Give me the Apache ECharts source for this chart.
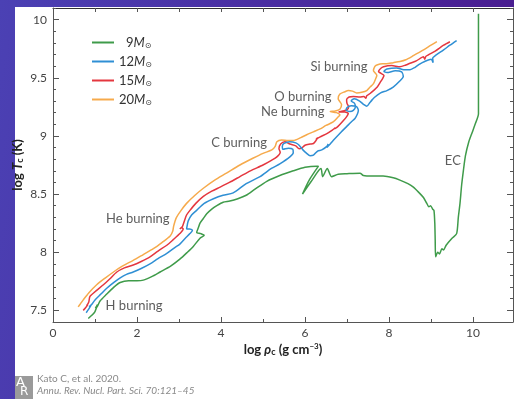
<!DOCTYPE html>
<html>
<head>
<meta charset="utf-8">
<script src="https://cdn.jsdelivr.net/npm/echarts@6/dist/echarts.min.js"></script>
<style>
  html, body { margin: 0; padding: 0; }
  #page {
    position: relative; width: 514px; height: 399px; overflow: hidden;
    background: linear-gradient(100deg, #4b41b4 0%, #4a2ea2 45%, #4a1a8c 100%);
  }
  #panel { position: absolute; left: 15px; top: 7px; right: 0; bottom: 0; background: #fff; }
  #chart { position: absolute; left: 0; top: 0; width: 514px; height: 399px; }
</style>
</head>
<body>
<div id="page">
  <div id="panel"></div>
  <div id="chart"></div>
</div>
<script>
// Central temperature vs. central density tracks (log10 values)
const massLabels = ['9', '12', '15', '20'];
const trackColors = ['#3f9b4a', '#2f8fd4', '#e4373f', '#f6aa4c'];

const track9 = [
  [0.84,7.43],[0.93,7.46],[1.0,7.49],[1.06,7.55],[1.01,7.52],[1.05,7.53],[1.12,7.58],[1.28,7.64],[1.45,7.70],
  [1.6,7.74],[1.8,7.755],[2.0,7.755],[2.15,7.76],[2.35,7.79],[2.55,7.83],[2.8,7.88],[3.02,7.94],[3.2,8.0],
  [3.34,8.05],[3.5,8.12],[3.6,8.145],[3.52,8.16],[3.42,8.17],[3.46,8.21],[3.5,8.25],[3.58,8.29],[3.66,8.33],
  [3.78,8.37],[3.9,8.40],[4.05,8.43],[4.21,8.44],[4.4,8.46],[4.6,8.49],[4.8,8.54],[5.09,8.61],[5.4,8.66],
  [5.72,8.70],[6.0,8.73],[6.28,8.74],[6.32,8.74],[6.1,8.62],[5.94,8.50],[6.15,8.61],[6.38,8.72],[6.42,8.65],
  [6.53,8.72],[6.63,8.65],[6.79,8.67],[7.0,8.675],[7.31,8.68],[7.39,8.66],[7.6,8.655],[7.86,8.655],[8.1,8.64],
  [8.26,8.62],[8.45,8.59],[8.58,8.56],[8.72,8.51],[8.82,8.47],[8.9,8.42],[8.95,8.39],[8.99,8.40],[9.04,8.37],
  [9.07,8.36],[9.09,8.25],[9.10,8.1],[9.11,7.96],[9.16,8.0],[9.2,7.985],[9.26,8.03],[9.3,8.02],[9.36,8.06],
  [9.5,8.12],[9.61,8.16],[9.65,8.3],[9.69,8.42],[9.73,8.58],[9.77,8.70],[9.82,8.83],[9.9,8.95],[9.98,9.03],
  [10.05,9.10],[10.13,9.19],[10.13,9.6],[10.13,10.05]
];
const track12 = [
  [0.79,7.48],[0.85,7.51],[0.9,7.54],[0.86,7.53],[0.92,7.55],[1.0,7.59],[1.14,7.64],[1.28,7.69],[1.45,7.74],
  [1.6,7.78],[1.75,7.81],[1.91,7.83],[2.1,7.86],[2.31,7.90],[2.5,7.945],[2.71,7.99],[2.9,8.04],[3.02,8.07],
  [3.15,8.12],[3.26,8.16],[3.32,8.19],[3.25,8.20],[3.18,8.20],[3.2,8.24],[3.22,8.27],[3.3,8.32],[3.42,8.36],
  [3.6,8.42],[3.82,8.46],[4.05,8.49],[4.29,8.51],[4.6,8.59],[4.93,8.65],[5.2,8.72],[5.4,8.76],[5.64,8.82],
  [5.72,8.855],[5.71,8.885],[5.6,8.895],[5.48,8.885],[5.46,8.91],[5.5,8.935],[5.64,8.95],[5.78,8.94],[5.86,8.92],
  [5.95,8.88],[6.04,8.85],[6.12,8.83],[6.2,8.835],[6.3,8.87],[6.4,8.88],[6.52,8.91],[6.55,8.93],[6.52,8.90],
  [6.6,8.93],[6.67,8.96],[6.85,9.03],[6.99,9.08],[7.1,9.12],[7.19,9.15],[7.25,9.19],[7.27,9.22],[7.22,9.255],
  [7.1,9.26],[7.0,9.245],[6.98,9.22],[7.07,9.21],[7.15,9.22],[7.2,9.25],[7.18,9.28],[7.1,9.30],[7.17,9.32],
  [7.3,9.30],[7.4,9.27],[7.47,9.255],[7.55,9.29],[7.6,9.31],[7.55,9.29],[7.65,9.33],[7.8,9.37],[7.95,9.39],
  [8.1,9.42],[8.25,9.47],[8.34,9.51],[8.3,9.55],[8.15,9.56],[7.95,9.545],[7.88,9.555],[7.95,9.575],[8.18,9.585],
  [8.35,9.57],[8.5,9.57],[8.62,9.59],[8.74,9.62],[8.85,9.64],[9.0,9.66],[9.05,9.63],[9.04,9.67],[9.1,9.69],
  [9.3,9.74],[9.45,9.78],[9.61,9.82]
];
const track15 = [
  [0.72,7.50],[0.77,7.52],[0.83,7.55],[0.80,7.54],[0.85,7.57],[0.88,7.62],[1.0,7.66],[1.2,7.72],[1.35,7.77],
  [1.52,7.83],[1.7,7.865],[1.91,7.89],[2.1,7.92],[2.31,7.96],[2.5,8.01],[2.71,8.06],[2.87,8.11],[3.02,8.16],
  [3.1,8.2],[3.06,8.21],[3.02,8.2],[3.08,8.22],[3.12,8.26],[3.18,8.32],[3.26,8.36],[3.4,8.42],[3.58,8.48],
  [3.78,8.525],[3.98,8.56],[4.2,8.6],[4.45,8.65],[4.7,8.70],[5.0,8.75],[5.2,8.79],[5.33,8.82],[5.41,8.86],
  [5.38,8.89],[5.42,8.93],[5.52,8.95],[5.64,8.93],[5.78,8.915],[5.86,8.89],[5.92,8.895],[6.0,8.92],[6.12,8.93],
  [6.2,8.935],[6.26,8.96],[6.3,8.985],[6.26,8.97],[6.35,8.99],[6.52,9.02],[6.65,9.05],[6.72,9.07],[6.7,9.06],
  [6.78,9.08],[6.91,9.13],[7.0,9.17],[7.03,9.195],[6.95,9.205],[6.8,9.205],[6.9,9.215],[7.0,9.225],[7.04,9.25],
  [7.0,9.28],[6.99,9.31],[7.05,9.335],[7.15,9.34],[7.31,9.335],[7.4,9.34],[7.45,9.325],[7.47,9.345],[7.55,9.365],
  [7.63,9.39],[7.72,9.42],[7.79,9.46],[7.85,9.495],[7.88,9.52],[7.8,9.54],[7.75,9.555],[7.8,9.58],[7.87,9.595],
  [8.06,9.605],[8.26,9.595],[8.4,9.61],[8.5,9.625],[8.65,9.645],[8.82,9.68],[8.85,9.66],[8.88,9.685],[9.1,9.73],
  [9.3,9.78],[9.45,9.81]
];
const track20 = [
  [0.6,7.53],[0.66,7.56],[0.72,7.59],[0.85,7.65],[1.04,7.72],[1.25,7.78],[1.44,7.83],[1.65,7.88],[1.91,7.93],
  [2.15,7.98],[2.39,8.03],[2.6,8.085],[2.79,8.14],[2.85,8.18],[2.87,8.22],[2.9,8.26],[2.94,8.30],[3.05,8.36],
  [3.18,8.42],[3.38,8.49],[3.58,8.55],[3.85,8.62],[4.13,8.68],[4.45,8.75],[4.77,8.81],[5.0,8.85],[5.21,8.88],
  [5.29,8.91],[5.33,8.95],[5.44,8.965],[5.6,8.96],[5.72,8.96],[5.9,8.985],[6.04,9.01],[6.2,9.035],[6.36,9.06],
  [6.5,9.09],[6.67,9.12],[6.78,9.16],[6.83,9.18],[6.75,9.2],[6.6,9.21],[6.72,9.215],[6.83,9.23],[6.87,9.27],
  [6.82,9.30],[6.79,9.32],[6.83,9.36],[6.95,9.38],[7.03,9.39],[7.13,9.385],[7.23,9.37],[7.35,9.375],[7.47,9.39],
  [7.55,9.42],[7.63,9.45],[7.68,9.49],[7.71,9.52],[7.66,9.545],[7.63,9.56],[7.66,9.595],[7.71,9.61],[7.85,9.62],
  [7.94,9.62],[8.1,9.63],[8.26,9.64],[8.4,9.655],[8.58,9.69],[8.8,9.735],[9.0,9.78],[9.14,9.81]
];
const tracks = [track9, track12, track15, track20];

// Burning-stage annotations (placed in data coordinates)
const stageNames = ['Si burning', 'O burning', 'Ne burning', 'C burning', 'He burning', 'H burning', 'EC'];
const stageX = [6.81, 5.95, 5.71, 4.43, 2.02, 1.93, 9.52];
const stageY = [9.59, 9.34, 9.21, 8.94, 8.29, 7.54, 8.79];

// Axis ticks
const xMajor = [0, 2, 4, 6, 8, 10];
const yMajor = [7.5, 8, 8.5, 9, 9.5, 10];
const yMinor = [7.4, 7.6, 7.7, 7.8, 7.9, 8.1, 8.2, 8.3, 8.4, 8.6, 8.7, 8.8, 8.9, 9.1, 9.2, 9.3, 9.4, 9.6, 9.7, 9.8, 9.9, 10.1];

const FONT = 'Lato, "Open Sans", sans-serif';
const AXIS_COLOR = '#555';
const X_MIN = 0, X_MAX = 10.952, Y_MIN = 7.4, Y_MAX = 10.1;

const chart = echarts.init(document.getElementById('chart'), null, { renderer: 'canvas' });

const baseY = (pos) => ({
  type: 'value', position: pos, min: Y_MIN, max: Y_MAX,
  splitLine: { show: false }, axisLine: { show: false }, axisLabel: { show: false },
  axisTick: { show: false }
});

const yAxes = [
  Object.assign(baseY('left'), {
    axisLine: { show: true, lineStyle: { color: AXIS_COLOR, width: 1 } },
    axisTick: { show: true, inside: true, length: 6, customValues: yMajor, lineStyle: { color: AXIS_COLOR } },
    axisLabel: { show: true, customValues: yMajor, color: '#444', fontSize: 12, fontFamily: FONT, margin: 6 },
    name: '{b|log }{i|T}{sub|c}{b| (K)}',
    nameLocation: 'middle', nameGap: 28, nameMoveOverlap: false,
    nameTextStyle: {
      rich: {
        b: { fontFamily: FONT, fontWeight: 'bold', fontSize: 13, color: '#222' },
        i: { fontFamily: FONT, fontWeight: 'bold', fontStyle: 'italic', fontSize: 13, color: '#222' },
        sub: { fontFamily: FONT, fontWeight: 'bold', fontSize: 9, color: '#222', padding: [5, 0, 0, 0] }
      }
    }
  }),
  Object.assign(baseY('left'), {
    axisTick: { show: true, inside: true, length: 3, customValues: yMinor, lineStyle: { color: AXIS_COLOR } }
  }),
  Object.assign(baseY('right'), {
    axisLine: { show: true, lineStyle: { color: AXIS_COLOR, width: 1 } },
    axisTick: { show: true, inside: true, length: 6, customValues: yMajor, lineStyle: { color: AXIS_COLOR } }
  }),
  Object.assign(baseY('right'), {
    axisTick: { show: true, inside: true, length: 3, customValues: yMinor, lineStyle: { color: AXIS_COLOR } }
  })
];

const xAxes = [
  {
    type: 'value', position: 'bottom', min: X_MIN, max: X_MAX, interval: 2,
    splitLine: { show: false },
    axisLine: { show: true, lineStyle: { color: AXIS_COLOR, width: 1 } },
    axisTick: { show: true, inside: true, length: 5, customValues: xMajor, lineStyle: { color: AXIS_COLOR } },
    minorTick: { show: true, splitNumber: 2, length: 3, lineStyle: { color: AXIS_COLOR } },
    axisLabel: { show: true, customValues: xMajor, color: '#444', fontSize: 12, fontFamily: FONT, margin: 5 },
    name: '{b|log }{i|ρ}{sub|c}{b| (g cm}{sup|−3}{b|)}',
    nameLocation: 'middle', nameGap: 20, nameMoveOverlap: false,
    nameTextStyle: {
      rich: {
        b: { fontFamily: FONT, fontWeight: 'bold', fontSize: 13, color: '#222' },
        i: { fontFamily: FONT, fontWeight: 'bold', fontStyle: 'italic', fontSize: 13, color: '#222' },
        sub: { fontFamily: FONT, fontWeight: 'bold', fontSize: 9, color: '#222', padding: [6, 0, 0, 0] },
        sup: { fontFamily: FONT, fontWeight: 'bold', fontSize: 8, color: '#222', padding: [0, 0, 6, 0] }
      }
    }
  },
  {
    type: 'value', position: 'top', min: X_MIN, max: X_MAX, interval: 1,
    splitLine: { show: false },
    axisLine: { show: true, lineStyle: { color: '#333', width: 1 } },
    axisTick: { show: true, inside: true, length: 4, lineStyle: { color: AXIS_COLOR } },
    axisLabel: { show: false }
  }
];

const lineSeries = tracks.map((pts, i) => ({
  name: massLabels[i] + 'M⊙',
  type: 'line',
  data: pts,
  xAxisIndex: 0, yAxisIndex: 0,
  showSymbol: false,
  smooth: 0.25,
  color: trackColors[i],
  lineStyle: { width: 1.5, color: trackColors[i] },
  z: 5 - i
}));

const stageSeries = {
  type: 'scatter',
  xAxisIndex: 0, yAxisIndex: 0,
  symbolSize: 0,
  silent: true,
  data: stageNames.map((n, i) => ({ name: n, value: [stageX[i], stageY[i]] })),
  label: {
    show: true, position: 'inside', formatter: '{b}',
    fontFamily: FONT, fontSize: 13, color: '#333'
  },
  z: 10
};

chart.setOption({
  animation: false,
  backgroundColor: 'transparent',
  grid: { left: 53, right: 1, top: 8, bottom: 77, outerBoundsMode: 'none' },
  xAxis: xAxes,
  yAxis: yAxes,
  legend: {
    orient: 'vertical', left: 87, top: 31,
    itemWidth: 22, itemHeight: 2, itemGap: 5,
    icon: 'rect',
    data: massLabels.map(m => m + 'M⊙'),
    formatter: (name) => {
      const num = name.replace('M⊙', '');
      // single-digit masses are right-aligned under the two-digit ones
      return (num.length === 1 ? '{n1|' : '{n|') + num + '}{m|M}{s|⊙}';
    },
    textStyle: {
      rich: {
        n: { fontFamily: FONT, fontSize: 13, color: '#333' },
        n1: { fontFamily: FONT, fontSize: 13, color: '#333', padding: [0, 0, 0, 7] },
        m: { fontFamily: FONT, fontSize: 13, fontStyle: 'italic', color: '#333' },
        s: { fontFamily: 'DejaVu Sans', fontSize: 8, color: '#333', padding: [7, 0, 0, 0] }
      }
    },
    selectedMode: false
  },
  series: lineSeries.concat([stageSeries]),
  graphic: [
    { type: 'rect', left: 15, top: 376, shape: { width: 18, height: 23 }, style: { fill: '#9a9a9a' }, silent: true },
    { type: 'text', left: 16, top: 376, style: { text: 'A', fill: '#fff', font: '13px "DejaVu Sans"' } },
    { type: 'text', left: 20, top: 386, style: { text: 'R', fill: '#fff', font: '12px "DejaVu Sans"' } },
    { type: 'text', left: 37, top: 374, style: { text: 'Kato C, et al. 2020.', fill: '#8a8a8a', font: '10px Lato, sans-serif' } },
    { type: 'text', left: 37, top: 386, style: { text: 'Annu. Rev. Nucl. Part. Sci. 70:121–45', fill: '#8a8a8a', font: 'italic 10px Lato, sans-serif' } }
  ]
});
</script>
</body>
</html>
